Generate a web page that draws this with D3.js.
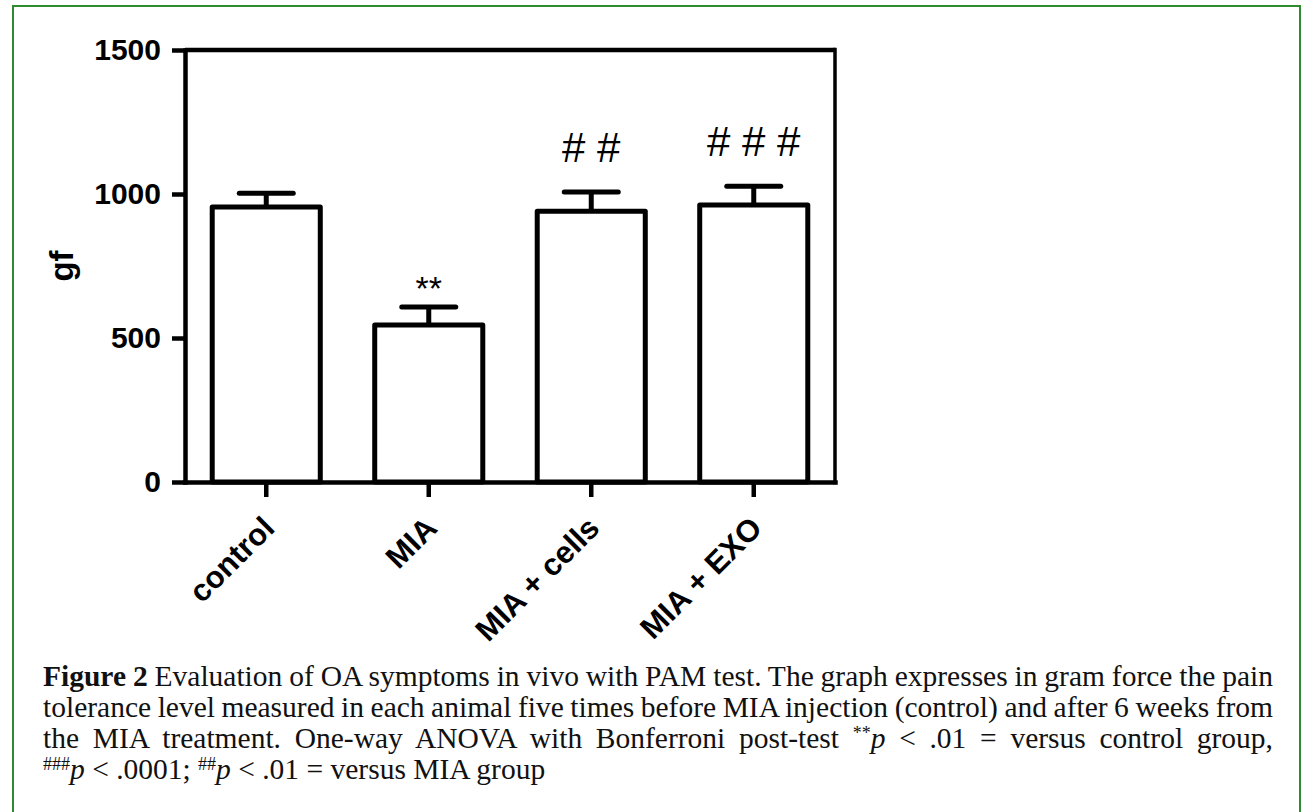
<!DOCTYPE html>
<html>
<head>
<meta charset="utf-8">
<script src="https://cdn.jsdelivr.net/npm/d3@7"></script>
<style>
  body { margin: 0; background: #fff; }
  .axis text { font-family: "Liberation Sans", Arial, sans-serif; font-weight: bold; font-size: 30px; fill: #000; }
  .caption { font-family: "Liberation Serif", "Times New Roman", serif; font-size: 29.5px; fill: #111; }
</style>
</head>
<body>
<svg id="chart" width="1302" height="812"></svg>
<script>
// values (gram force)
var groups = ["control", "MIA", "MIA + cells", "MIA + EXO"];
var means = [955, 545, 940, 962];
var errs = [48, 63, 67, 65];
var marks = ["", "**", "# #", "# # #"];
var yTicks = [0, 500, 1000, 1500];

var captionLines = [
  [{t: "Figure 2", b: true}, {t: " Evaluation of OA symptoms in vivo with PAM test. The graph expresses in gram force the pain"}],
  [{t: "tolerance level measured in each animal five times before MIA injection (control) and after 6 weeks from"}],
  [{t: "the MIA treatment. One-way ANOVA with Bonferroni post-test "}, {t: "**", sup: true}, {t: "p", i: true}, {t: " < .01 = versus control group,"}],
  [{t: "###", sup: true}, {t: "p", i: true}, {t: " < .0001; "}, {t: "##", sup: true}, {t: "p", i: true}, {t: " < .01 = versus MIA group"}]
];

var svg = d3.select("#chart");

// green frame round the whole figure
svg.append("rect")
  .attr("x", 13).attr("y", 6)
  .attr("width", 1287).attr("height", 830)
  .attr("fill", "none")
  .attr("stroke", "#2e8b2e")
  .attr("stroke-width", 2);

var plotL = 185, plotR = 835, plotT = 50, plotB = 482;

var x = d3.scaleBand().domain(groups).range([plotL, plotR])
  .paddingInner(0.335).paddingOuter(0.1675);
var y = d3.scaleLinear().domain([0, 1500]).range([plotB, plotT]);

var lw = 4.5;

// bars
svg.selectAll(".bar")
  .data(groups)
  .enter().append("rect")
  .attr("class", "bar")
  .attr("x", function(d) { return x(d); })
  .attr("y", function(d, i) { return y(means[i]); })
  .attr("width", x.bandwidth())
  .attr("height", function(d, i) { return y(0) - y(means[i]); })
  .attr("fill", "white")
  .attr("stroke", "black")
  .attr("stroke-width", 5)
  .attr("stroke-linejoin", "round");

// error bars (upper only)
svg.selectAll(".err")
  .data(groups)
  .enter().append("line")
  .attr("x1", function(d) { return x(d) + x.bandwidth() / 2; })
  .attr("x2", function(d) { return x(d) + x.bandwidth() / 2; })
  .attr("y1", function(d, i) { return y(means[i]); })
  .attr("y2", function(d, i) { return y(means[i] + errs[i]); })
  .attr("stroke", "black").attr("stroke-width", 5);

svg.selectAll(".cap")
  .data(groups)
  .enter().append("line")
  .attr("x1", function(d) { return x(d) + x.bandwidth() / 2 - 27; })
  .attr("x2", function(d) { return x(d) + x.bandwidth() / 2 + 27; })
  .attr("y1", function(d, i) { return y(means[i] + errs[i]); })
  .attr("y2", function(d, i) { return y(means[i] + errs[i]); })
  .attr("stroke", "black").attr("stroke-width", 5)
  .attr("stroke-linecap", "round");

// significance marks
svg.selectAll(".mark")
  .data(groups)
  .enter().append("text")
  .attr("x", function(d) { return x(d) + x.bandwidth() / 2; })
  .attr("y", function(d, i) { return i == 1 ? y(means[i] + errs[i]) - 7 : y(means[i] + errs[i]) - 30; })
  .attr("text-anchor", "middle")
  .style("font-family", "Liberation Sans, Arial, sans-serif")
  .style("font-size", function(d, i) { return i == 1 ? "34px" : "42px"; })
  .text(function(d, i) { return marks[i]; });

// frame top + right
svg.append("line").attr("x1", plotL).attr("x2", plotR).attr("y1", plotT).attr("y2", plotT)
  .attr("stroke", "black").attr("stroke-width", lw);
svg.append("line").attr("x1", plotR).attr("x2", plotR).attr("y1", plotT - lw / 2).attr("y2", plotB + lw / 2)
  .attr("stroke", "black").attr("stroke-width", 3.5);

// axes
var yAxis = d3.axisLeft(y).tickValues(yTicks).tickFormat(d3.format("d"))
  .tickSize(13).tickSizeOuter(0).tickPadding(11);
svg.append("g").attr("class", "axis")
  .attr("transform", "translate(" + plotL + ",0)")
  .call(yAxis);

var xAxis = d3.axisBottom(x).tickSize(15).tickSizeOuter(0).tickFormat("");
svg.append("g").attr("class", "axis")
  .attr("transform", "translate(0," + plotB + ")")
  .call(xAxis);

svg.selectAll(".axis path, .axis line")
  .attr("stroke", "black").attr("stroke-width", lw);
svg.selectAll(".axis path").attr("stroke-linecap", "square");

// rotated category labels
svg.selectAll(".xlab")
  .data(groups)
  .enter().append("text")
  .attr("transform", function(d) { return "translate(" + (x(d) + x.bandwidth() / 2 + 10) + ",530) rotate(-45)"; })
  .attr("text-anchor", "end")
  .style("font-family", "Liberation Sans, Arial, sans-serif")
  .style("font-weight", "bold")
  .style("font-size", "31px")
  .text(function(d) { return d; });

// y title
svg.append("text")
  .attr("transform", "translate(73," + ((plotT + plotB) / 2) + ") rotate(-90)")
  .attr("text-anchor", "middle")
  .style("font-family", "Liberation Sans, Arial, sans-serif")
  .style("font-weight", "bold")
  .style("font-size", "33px")
  .text("gf");

// caption, first three lines justified
var capX = 43, capW = 1230;
var baselines = [686, 717, 748, 779];
captionLines.forEach(function(parts, li) {
  var t = svg.append("text").attr("class", "caption")
    .attr("x", capX).attr("y", baselines[li]);
  var raised = false;
  parts.forEach(function(p) {
    var s = t.append("tspan").text(p.t);
    if (p.b) s.style("font-weight", "bold");
    if (p.i) s.style("font-style", "italic");
    if (p.sup) { s.attr("dy", -9).style("font-size", "18px"); raised = true; }
    else if (raised) { s.attr("dy", 9); raised = false; }
  });
  if (li < 3) {
    var natural = t.node().getComputedTextLength();
    var spaces = parts.map(function(p) { return p.t; }).join("").split(" ").length - 1;
    t.style("word-spacing", ((capW - natural) / spaces) + "px");
  }
});
</script>
</body>
</html>
